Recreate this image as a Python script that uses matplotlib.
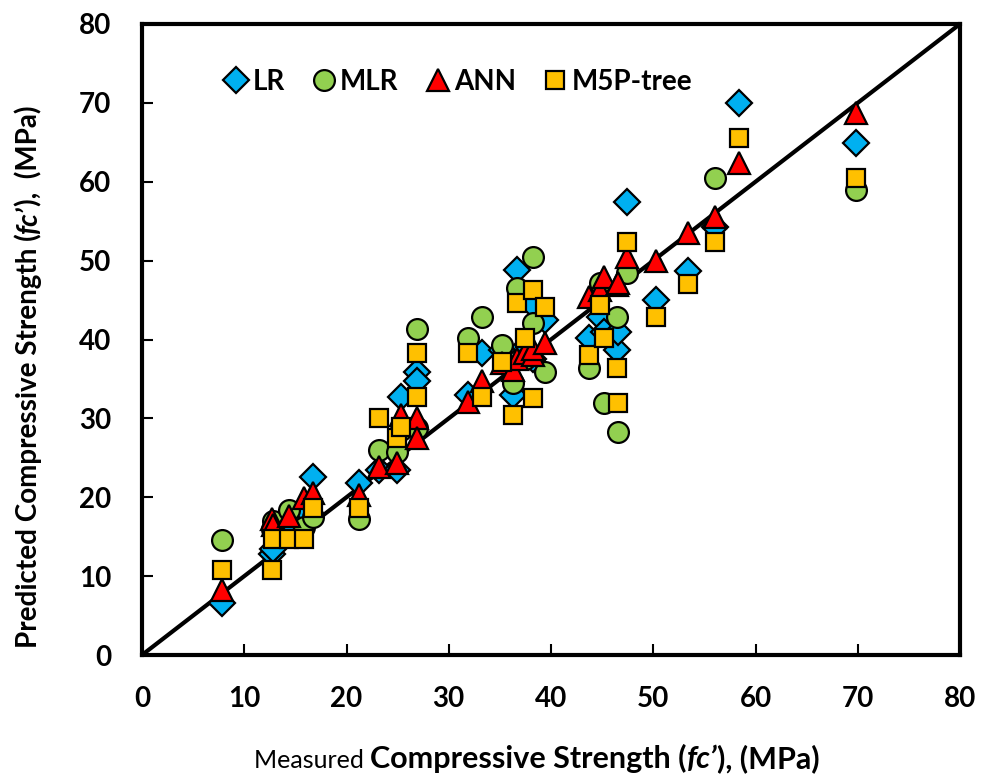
import matplotlib
matplotlib.use("Agg")
import matplotlib.pyplot as plt

nan = float("nan")

# Measured compressive strength (shared by all models)
measured = [7.8, 12.7, 12.8, 14.4, 15.8, 16.7, 21.2, 23.2, 24.9, 25.3,
            26.9, 26.9, 31.9, 33.3, 35.2, 36.3, 36.7, 37.5, 38.2, 38.2,
            39.4, 43.7, 44.8, 45.2, 46.5, 46.6, 47.4, 50.3, 53.4, 56.0,
            58.4, 69.8]

pred_lr = [6.6, 12.8, 13.5, 17.0, 18.5, 22.6, 21.8, 23.4, 23.5, 32.7,
           35.9, 34.8, 33.0, 38.3, 38.7, 33.0, 48.8, 39.0, 44.4, 37.5,
           42.5, 40.2, 42.9, 41.0, 38.7, 41.0, 57.4, 45.0, 48.7, 54.2,
           70.0, 64.9]

pred_mlr = [14.6, 16.0, 17.0, 18.4, 16.2, 17.5, 17.2, 26.0, 25.7, 28.5,
            41.3, 28.8, 40.2, 42.8, 39.3, 34.5, 46.5, 37.5, 50.4, 42.1,
            35.9, 36.4, 47.1, 31.9, 42.8, 28.3, 48.4, nan, nan, 60.5,
            nan, 58.9]

pred_ann = [8.2, 17.2, 16.5, 17.6, 19.9, 20.5, 20.3, 23.8, 24.3, 30.4,
            30.0, 27.5, 32.1, 34.8, 37.0, 36.1, 37.5, 38.3, 38.0, 38.8,
            39.5, 45.4, 46.3, 47.9, 46.9, 47.2, 50.5, 49.9, 53.5, 55.5,
            62.4, 68.7]

pred_m5p = [10.8, 10.8, 14.7, 14.7, 14.7, 18.6, 18.6, 30.0, 27.5, 28.9,
            38.3, 32.7, 38.3, 32.7, 37.1, 30.4, 44.6, 40.2, 46.3, 32.6,
            44.1, 38.0, 44.4, 40.2, 36.4, 31.9, 52.3, 42.8, 47.0, 52.3,
            65.5, 60.5]

series_names = ["LR", "MLR", "ANN", "M5P-tree"]
ticks = [0, 10, 20, 30, 40, 50, 60, 70, 80]

FONT = "Lato"

fig = plt.figure(figsize=(9.88, 7.79), dpi=100)
ax = fig.add_axes([142/988, 1-655/779, (960-142)/988, (655-24)/779])

ax.plot([0, 80], [0, 80], color="black", lw=3, zorder=2)

styles = [
    (pred_lr, "D", "#00B0F0", 13.5),
    (pred_mlr, "o", "#92D050", 15),
    (pred_ann, "^", "#FF0000", 16),
    (pred_m5p, "s", "#FFC000", 13.5),
]
for (vals, m, c, ms), name in zip(styles, series_names):
    ax.plot(measured, vals, linestyle="none", marker=m, markersize=ms,
            markerfacecolor=c, markeredgecolor="black", markeredgewidth=1.6,
            label=name, zorder=3)

ax.set_xlim(0, 80)
ax.set_ylim(0, 80)
ax.set_xticks(ticks)
ax.set_yticks(ticks)
ax.tick_params(direction="in", length=8, width=1.5, labelsize=20, pad=22)
for lab in ax.get_xticklabels() + ax.get_yticklabels():
    lab.set_fontweight("bold")
    lab.set_fontfamily(FONT)
for sp in ax.spines.values():
    sp.set_linewidth(3)

leg = ax.legend(loc="center", bbox_to_anchor=(0.387, 0.908), ncol=4,
                frameon=False, handlelength=0.8, handletextpad=0.2,
                columnspacing=1.0, prop={"family": FONT, "weight": "bold", "size": 20})

# composite axis labels
renderer = fig.canvas.get_renderer()

def chain(pieces, x0, y0, rotation=0):
    # pieces: list of (text, size, weight, style); positions in figure pixels
    x, y = x0, y0
    for txt, size, weight, style in pieces:
        t = fig.text(x/988, y/779, txt, fontsize=size, fontweight=weight,
                     fontstyle=style, family=FONT, ha="left", va="baseline",
                     rotation=rotation, rotation_mode="anchor")
        bb = t.get_window_extent(renderer)
        if rotation == 0:
            x += bb.width
        else:
            y += bb.height

chain([("Measured ", 18, "normal", "normal"),
       ("Compressive Strength (", 22, "bold", "normal"),
       ("fc’", 22, "bold", "italic"),
       ("), (MPa)", 22, "bold", "normal")], 254, 779-768)

chain([("Predicted Compressive Strength (", 20, "bold", "normal"),
       ("fc’", 20, "bold", "italic"),
       ("),  (MPa)", 20, "bold", "normal")], 37, 779-648, rotation=90)

fig.savefig("out.png", dpi=100)
